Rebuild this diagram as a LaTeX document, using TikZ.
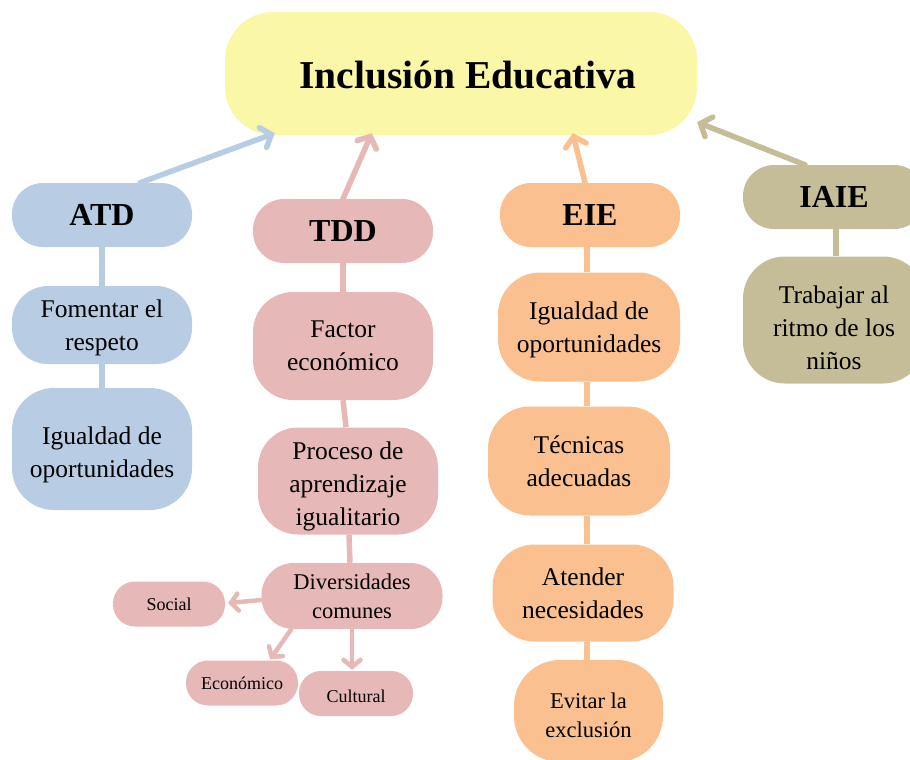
\documentclass[tikz,border=0pt]{standalone}
\usepackage{fontspec}
\setmainfont{Liberation Serif}
\usetikzlibrary{arrows.meta,calc}
\definecolor{cyel}{HTML}{FAF7A6}
\definecolor{cblue}{HTML}{B8CCE4}
\definecolor{cpink}{HTML}{E6B8B7}
\definecolor{corange}{HTML}{FAC090}
\definecolor{ckhaki}{HTML}{C4BD97}
% lower the text inside a node without changing the node's size
\newcommand{\txtdown}[2]{\raisebox{-#1}[\height][\depth]{\begin{tabular}{@{}c@{}}#2\end{tabular}}}
\begin{document}
\begin{tikzpicture}[x=1pt,y=-1pt,
  pill/.style={inner sep=0pt, align=center, text=black, minimum width=180pt,
    font=\fontsize{25.5}{33}\selectfont},
  head/.style={pill, minimum height=64pt, rounded corners=31pt,
    font=\fontsize{32}{36}\selectfont\bfseries},
  mid/.style={pill, font=\fontsize{22.5}{29}\selectfont},
  small/.style={pill, minimum width=112pt, minimum height=45pt, rounded corners=22pt,
    font=\fontsize{18}{22}\selectfont},
  conn/.style={line width=5.5pt},
  arr/.style={conn, line cap=round, -{Straight Barb[length=9pt,width=21pt,line cap=round]}},
  sarr/.style={line width=4.5pt, line cap=round, -{Straight Barb[length=7pt,width=17pt,line cap=round]}}
]
\useasboundingbox (0,0) rectangle (910,760);

% title
\node[pill, fill=cyel, minimum width=472pt, minimum height=123pt, rounded corners=48pt,
  font=\fontsize{39.5}{44}\selectfont\bfseries] (title) at (461,73.5) {\txtdown{6pt}{\hspace*{14pt}Inclusión Educativa}};

% ATD column
\node[head, fill=cblue] (atd) at (102,215) {ATD};
\node[pill, fill=cblue, minimum height=78pt, rounded corners=36pt] (fom) at (102,325) {\txtdown{2pt}{Fomentar el\\respeto}};
\node[pill, fill=cblue, minimum height=122pt, rounded corners=42pt] (iga) at (102,449) {\txtdown{5pt}{Igualdad de\\oportunidades}};

% TDD column
\node[head, fill=cpink] (tdd) at (343,231) {TDD};
\node[pill, fill=cpink, minimum height=108pt, rounded corners=40pt] (fac) at (343,346) {Factor\\económico};
\node[pill, fill=cpink, minimum height=107pt, rounded corners=40pt] (pro) at (348,481) {\txtdown{5pt}{Proceso de\\aprendizaje\\igualitario}};
\node[mid, fill=cpink, minimum width=181pt, minimum height=66pt, rounded corners=32pt] (div) at (352,596) {Diversidades\\comunes};
\node[small, fill=cpink] (soc) at (169,604) {Social};
\node[small, fill=cpink] (eco) at (242,683) {Económico};
\node[small, fill=cpink, minimum width=114pt] (cul) at (356,693.5) {\txtdown{5pt}{Cultural}};

% EIE column
\node[head, fill=corange] (eie) at (590,215) {EIE};
\node[pill, fill=corange, minimum width=182pt, minimum height=109pt, rounded corners=42pt] (igb) at (589,327) {\txtdown{2pt}{Igualdad de\\oportunidades}};
\node[pill, fill=corange, minimum width=182pt, minimum height=109pt, rounded corners=42pt] (tec) at (579,461) {Técnicas\\adecuadas};
\node[pill, fill=corange, minimum width=181pt, minimum height=97pt, rounded corners=42pt] (ate) at (583,593) {Atender\\necesidades};
\node[mid, fill=corange, minimum width=149pt, minimum height=102pt, rounded corners=46pt] (evi) at (588.5,711) {\txtdown{6pt}{Evitar la\\exclusión}};

% IAIE column
\node[head, fill=ckhaki, minimum width=182pt] (iaie) at (834,197) {IAIE};
\node[pill, fill=ckhaki, minimum width=182pt, minimum height=127pt, rounded corners=42pt] (tra) at (834,320) {\txtdown{10pt}{Trabajar al\\ritmo de los\\niños}};

% vertical connectors
\draw[conn, cblue] (atd) -- (fom);
\draw[conn, cblue] (fom) -- (iga);
\draw[conn, cpink] (tdd.south) -- (fac.north);
\draw[conn, cpink] (fac.south) -- ($(pro.north)+(-2,0)$);
\draw[conn, cpink] ($(pro.south)+(1,0)$) -- ($(div.north)+(-2,0)$);
\draw[conn, corange] ($(eie.south)+(-3,0)$) -- ($(igb.north)+(-2,0)$);
\draw[conn, corange] ($(igb.south)+(-2,0)$) -- ($(tec.north)+(8,0)$);
\draw[conn, corange] ($(tec.south)+(8,0)$) -- ($(ate.north)+(4,0)$);
\draw[conn, corange] ($(ate.south)+(4,0)$) -- ($(evi.north)+(-1.5,0)$);
\draw[conn, ckhaki] ($(iaie.south)+(2,0)$) -- ($(tra.north)+(2,0)$);

% arrows to title
\draw[arr, cblue] ($(atd.north)+(38,0)$) -- ($(title.south west)+(50,-2)$);
\draw[arr, cpink] (tdd.north) -- ($(title.south west)+(147,-2)$);
\draw[arr, corange] ($(eie.north)+(-5,0)$) -- ($(title.south west)+(348,-2)$);
\draw[arr, ckhaki] ($(iaie.north)+(-29,0)$) -- ($(title.south east)+(0,-13)$);

% small arrows
\draw[sarr, cpink] ($(div.west)+(0,4)$) -- ($(soc.east)+(3,-1)$);
\draw[sarr, cpink] ($(div.south west)+(30,0)$) -- ($(eco.north east)+(-28,-1)$);
\draw[sarr, cpink] (div.south) -- ($(cul.north)+(-4,-1)$);
\end{tikzpicture}
\end{document}
